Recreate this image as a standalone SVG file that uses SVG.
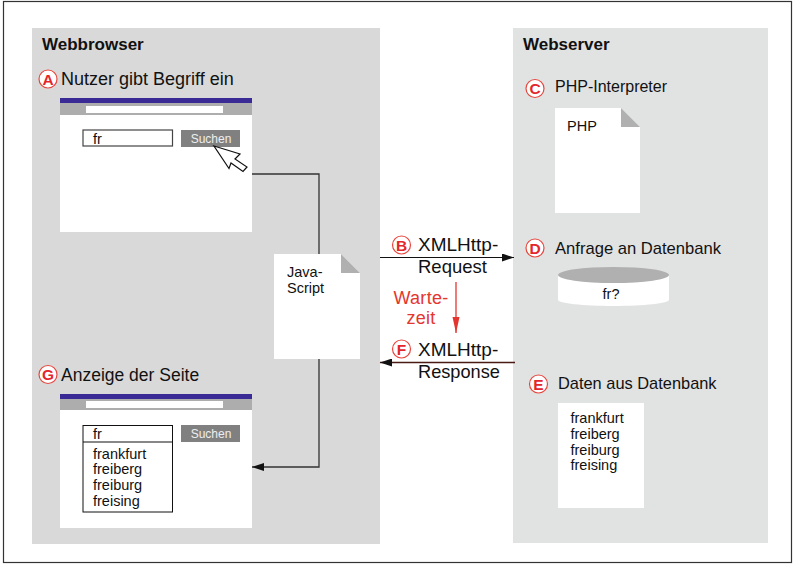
<svg xmlns="http://www.w3.org/2000/svg" width="794" height="566" viewBox="0 0 794 566">
<style>
text{font-family:"Liberation Sans",Arial,sans-serif;fill:#111}
.h{font-size:17px;font-weight:700}
.t{font-size:17.800px}
.x{font-size:18.500px}
.u{font-size:16.400px}
.s{font-size:14.500px}
.b{font-size:12px;text-anchor:middle;fill:#eee}
.badge{fill:#fff;stroke:#e8473f;stroke-width:1.2}
.bt{font-size:15.500px;font-weight:700;fill:#e3262c;text-anchor:middle}
.w{font-size:18px;letter-spacing:.3px;text-anchor:middle;fill:#e5352f}
.white{fill:#fff}
.fold{fill:#b0b0b0}
.line{fill:none;stroke:#333;stroke-width:1.3}
</style>
<defs>
<marker id="ah" markerUnits="userSpaceOnUse" markerWidth="12" markerHeight="8" refX="12" refY="4" orient="auto"><path d="M0 0L12 4L0 8z" fill="#111"/></marker>
<marker id="ahr" markerUnits="userSpaceOnUse" markerWidth="16" markerHeight="8" refX="16" refY="3.500" orient="auto"><path d="M0 0L16 3.500L0 7z" fill="#e5352f"/></marker>
</defs>
<rect width="794" height="566" fill="#fff"/>
<rect x="3.500" y="1.500" width="788" height="561" fill="#fff" stroke="#333" stroke-width="1.2"/>
<g id="webbrowser"><rect x="32" y="28" width="348" height="516" fill="#d9d9d9"/><text class="h" x="42" y="50">Webbrowser</text></g>
<g id="webserver"><rect x="513" y="28" width="255" height="515" fill="#e1e2e2"/><text class="h" x="523" y="50">Webserver</text></g>
<rect x="380" y="28" width="133" height="516" fill="#fff"/>
<g id="connectors">
<path class="line" d="M252 174H319V254"/>
<path class="line" d="M319 358V467H252" marker-end="url(#ah)"/>
<path d="M380 257.500H514" fill="none" stroke="#111" stroke-width="1.2" marker-end="url(#ah)"/>
<path d="M515 362.500H380" fill="none" stroke="#4a1a14" stroke-width="1.300" marker-end="url(#ah)"/>
<path d="M456 282V333" fill="none" stroke="#e5352f" stroke-width="1.3" marker-end="url(#ahr)"/>
</g>
<g id="node-a">
<circle class="badge" cx="48" cy="79" r="9"/><text class="bt" x="48" y="84.500">A</text>
<text class="t" x="61" y="85" style="font-size:18px">Nutzer gibt Begriff ein</text>
<rect class="white" x="60" y="98" width="192" height="134"/>
<rect x="60" y="98" width="192" height="5" fill="#3a2a96"/>
<rect x="60" y="103" width="192" height="12" fill="#adadad"/>
<rect class="white" x="86" y="106" width="137" height="7"/>
<rect x="83" y="130" width="89.500" height="16" fill="#fff" stroke="#444" stroke-width="1.2"/>
<text class="s" x="93" y="143.500">fr</text>
<rect x="181" y="130" width="59" height="17" fill="#808080"/>
<text class="b" x="211" y="142.500">Suchen</text>
<path d="M214 146L240 154L235 159L247 167L243 171.500L231 163L229 168.500Z" fill="#fff" stroke="#111" stroke-width="1.2"/>
</g>
<g id="node-js">
<path class="white" d="M274 254H341L360 273V359H274Z"/>
<path class="fold" d="M341 254L360 273H341Z"/>
<text class="s" x="287" y="276.500">Java-</text><text class="s" x="287" y="292.500">Script</text>
</g>
<g id="node-b">
<circle class="badge" cx="401.500" cy="245" r="9"/><text class="bt" x="401.500" y="250.500">B</text>
<text class="x" x="418" y="251" style="font-size:19px">XMLHttp-</text>
<text class="x" x="418" y="273">Request</text>
</g>
<g id="node-wait">
<text class="w" x="421" y="304">Warte-</text>
<text class="w" x="421" y="323.500">zeit</text>
</g>
<g id="node-f">
<circle class="badge" cx="401.500" cy="349" r="9"/><text class="bt" x="401.500" y="354.500">F</text>
<text class="x" x="418" y="356" style="font-size:19px">XMLHttp-</text>
<text class="x" x="418" y="378" style="font-size:18.200px">Response</text>
</g>
<g id="node-c">
<circle class="badge" cx="535" cy="88.500" r="9"/><text class="bt" x="535" y="94">C</text>
<text class="u" x="555" y="92" style="font-size:16px">PHP-Interpreter</text>
<path class="white" d="M555 108H621L640 127V213H555Z"/>
<path class="fold" d="M621 108L640 127H621Z"/>
<text class="s" x="567" y="130.500">PHP</text>
</g>
<g id="node-d">
<circle class="badge" cx="535" cy="248" r="9"/><text class="bt" x="535" y="253.500">D</text>
<text class="u" x="555" y="254" style="font-size:16.600px">Anfrage an Datenbank</text>
<path class="white" d="M558 275V300C558 303 583 306 613.500 306S669 303 669 300V275Z"/>
<ellipse class="fold" cx="613.500" cy="275" rx="55.500" ry="8"/>
<text class="s" x="611" y="298.500" text-anchor="middle">fr?</text>
</g>
<g id="node-e">
<circle class="badge" cx="538.500" cy="384" r="9"/><text class="bt" x="538.500" y="389.500">E</text>
<text class="u" x="558" y="389">Daten aus Datenbank</text>
<rect class="white" x="558" y="403" width="86" height="105"/>
<text class="s" x="570.500" y="422.500">frankfurt</text>
<text class="s" x="570.500" y="438.500">freiberg</text>
<text class="s" x="570.500" y="454.500">freiburg</text>
<text class="s" x="570.500" y="469.500">freising</text>
</g>
<g id="node-g">
<circle class="badge" cx="48" cy="374.500" r="9"/><text class="bt" x="48" y="380">G</text>
<text class="t" x="61" y="380.500" style="font-size:17.500px">Anzeige der Seite</text>
<rect class="white" x="60" y="394" width="192" height="134"/>
<rect x="60" y="394" width="192" height="5" fill="#3a2a96"/>
<rect x="60" y="399" width="192" height="11" fill="#adadad"/>
<rect class="white" x="86" y="401" width="137" height="7"/>
<rect x="83" y="425.500" width="89.500" height="86.500" fill="#fff" stroke="#111" stroke-width="1"/>
<path d="M83 442H172.500" stroke="#111" stroke-width="1.2"/>
<text class="s" x="93" y="438.500">fr</text>
<rect x="181" y="425" width="59" height="17" fill="#808080"/>
<text class="b" x="211" y="438">Suchen</text>
<text class="s" x="93" y="458.500">frankfurt</text>
<text class="s" x="93" y="473.500">freiberg</text>
<text class="s" x="93" y="489.500">freiburg</text>
<text class="s" x="93" y="505.500">freising</text>
</g>
</svg>
